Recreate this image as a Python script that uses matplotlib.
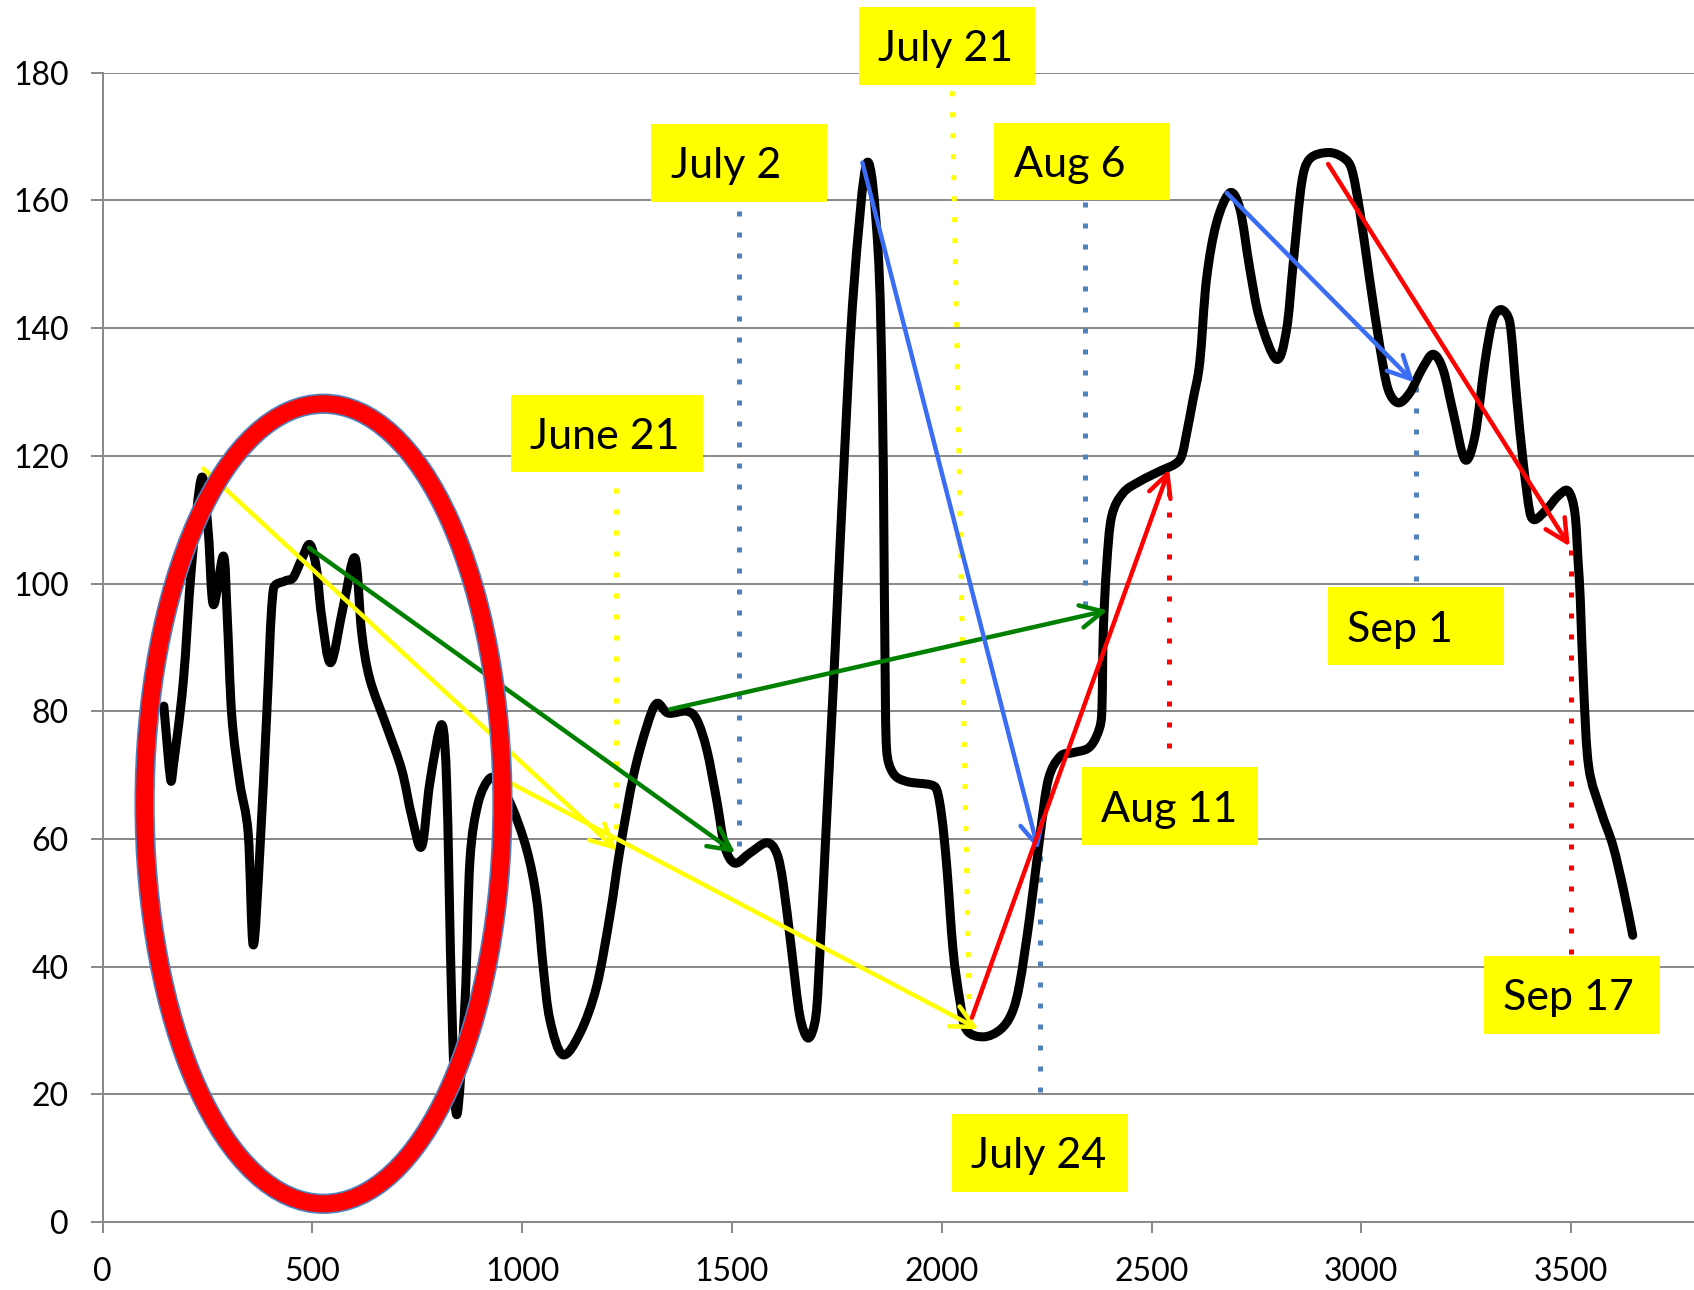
import matplotlib
matplotlib.use('Agg')
import matplotlib.pyplot as plt
from matplotlib.path import Path
from matplotlib.patches import PathPatch, Ellipse, Rectangle
import numpy as np

# ---------------- data ----------------
curve_x = [146, 162, 168.5, 192, 212, 236, 252, 264, 288, 297, 308, 327, 347, 359,
           375, 391, 407, 435, 454, 474.5, 494, 510, 522, 543.6, 573.7, 601.5, 617.5,
           637, 677, 713, 737, 760.5, 780, 808, 820, 832, 844, 864, 875.6, 895, 923,
           945, 975, 1011, 1034.6, 1050, 1066, 1096.5, 1138, 1177.5, 1209, 1233, 1265,
           1297, 1320.5, 1348, 1392, 1416, 1440, 1463.5, 1483, 1507, 1543, 1583, 1606.5,
           1622, 1642, 1662, 1682, 1700, 1710, 1722, 1734, 1746, 1768, 1790, 1822, 1848,
           1859, 1864.6, 1868.6, 1884, 1916, 1972, 1988, 2000, 2012, 2027, 2043, 2059,
           2099, 2139, 2167, 2186, 2210, 2234, 2254, 2282, 2313, 2349, 2369, 2381, 2385,
           2393, 2405, 2432.6, 2472, 2520, 2556, 2572, 2584, 2599, 2615, 2631, 2655, 2687,
           2711, 2734.5, 2758, 2798, 2822, 2838, 2858, 2877, 2921, 2957, 2977, 2997, 3020,
           3044, 3064, 3088, 3116, 3144, 3171, 3195, 3219, 3247, 3271, 3294.5, 3314, 3334,
           3354, 3370, 3386, 3402, 3414, 3442, 3469, 3493, 3509, 3517, 3522, 3530, 3542,
           3571, 3600, 3625, 3647]
curve_y = [80.8, 69.3, 71.4, 84.4, 102.7, 116.6, 107.9, 96.7, 104.3, 94.9, 79.2, 68.8, 60.9, 43.4,
           58.3, 79.2, 99.1, 100.4, 100.9, 103.8, 106.1, 102.2, 94.9, 87.6, 96.4, 104.0, 92.3,
           85.0, 77.6, 70.8, 63.5, 58.8, 68.8, 77.9, 68.8, 34.8, 16.8, 34.8, 56.7, 65.6, 69.5,
           68.5, 65.1, 58.3, 50.5, 40.0, 31.7, 26.2, 29.6, 36.9, 47.9, 58.3, 69.8,
           77.6, 81.2, 79.7, 80.0, 78.7, 74.0, 66.1, 58.8, 56.2, 57.8, 59.4, 57.8,
           53.1, 42.6, 32.2, 28.8, 32.2, 42.6, 58.3, 74.0, 89.7, 120.0, 146.0, 165.9, 152.5,
           126.6, 89.7, 74.0, 70.3, 69.0, 68.5, 67.7, 63.5, 55.7, 42.6, 34.8, 30.1,
           29.0, 30.1, 32.7, 37.4, 47.9, 60.4, 69.3, 72.9, 73.5, 74.2, 76.1, 79.2, 92.3,
           102.7, 110.5, 114.2, 116.0, 117.6, 118.7, 120.0, 123.6, 128.8, 134.6, 147.6, 156.5, 161.2,
           158.6, 149.2, 141.4, 135.1, 139.8, 150.3, 162.8, 166.5, 167.5, 166.7, 164.9, 158.1, 147.6,
           137.2, 130.4, 128.3, 129.9, 133.5, 135.9, 133.5, 126.8, 119.4, 123.1, 134.6, 141.4, 142.9,
           140.9, 129.4, 118.9, 111.1, 110.0, 111.6, 113.7, 114.5, 111.1, 103.2, 97.5, 83.7, 71.3,
           64.4, 58.9, 52.0, 44.9]

x_ticks = [0, 500, 1000, 1500, 2000, 2500, 3000, 3500]
y_ticks = [0, 20, 40, 60, 80, 100, 120, 140, 160, 180]

# date labels: text, box left x, box bottom y, box width (data units)
label_text = ["June 21", "July 2", "July 21", "Aug 6", "Aug 11", "July 24", "Sep 1", "Sep 17"]
label_left = [973, 1307, 1802, 2125, 2334, 2024, 2920, 3292]
label_bottom = [117.4, 159.8, 178.1, 160.0, 59.0, 4.7, 87.2, 29.5]
label_width = [458, 420, 420, 420, 420, 420, 420, 420]

# dotted markers: x top, y top, x bottom, y bottom, colour
vline_x0 = [1223.5, 1517, 2025, 2342, 2234, 2542, 3130, 3501]
vline_y0 = [115.0, 158.3, 177.1, 159.7, 57.3, 114.5, 130.7, 105.3]
vline_x1 = [1223.5, 1517, 2065.6, 2342, 2234, 2542, 3130, 3501]
vline_y1 = [57.8, 57.8, 33.2, 95.9, 20.4, 74.1, 100.4, 42.0]
vline_col = ['#FFFF00', '#4F81BD', '#FFFF00', '#4F81BD', '#4F81BD', '#FF0000', '#4F81BD', '#FF0000']

# arrows: start -> end, colour
arrow_x0 = [240, 945, 492, 1353, 1811, 2679, 2072, 2921]
arrow_y0 = [118.0, 69.7, 105.6, 80.3, 165.9, 161.2, 32.0, 165.7]
arrow_x1 = [1226, 2088, 1508, 2396, 2230, 3126, 2542, 3497]
arrow_y1 = [58.2, 30.2, 57.8, 95.8, 58.3, 131.5, 117.9, 105.8]
arrow_col = ['#FFFF00', '#FFFF00', '#008000', '#008000', '#3A6CF4', '#3A6CF4', '#FF0000', '#FF0000']

# ---------------- figure ----------------
W, H = 1694, 1290
fig = plt.figure(figsize=(W / 100, H / 100), dpi=100)
ax = fig.add_axes([102.6 / W, 68 / H, 1 - 102.6 / W, (1222 - 72.7) / H])
XMAX = 3793
ax.set_xlim(0, XMAX)
ax.set_ylim(0, 180)

font = ['Lato', 'DejaVu Sans']
grid_c = '#8A8A8A'
ax.set_yticks(y_ticks)
ax.set_xticks(x_ticks)
ax.set_yticklabels([str(v) for v in y_ticks], fontsize=23, family=font)
ax.set_xticklabels([str(v) for v in x_ticks], fontsize=23, family=font)
ax.tick_params(axis='y', length=8.3, width=1.45, color=grid_c, pad=16, direction='out')
ax.tick_params(axis='x', length=8, width=1.45, color=grid_c, pad=17, direction='out')
for s in ['top', 'right']:
    ax.spines[s].set_visible(False)
for s in ['left', 'bottom']:
    ax.spines[s].set_color(grid_c)
    ax.spines[s].set_linewidth(1.45)
ax.yaxis.grid(True, color=grid_c, linewidth=1.45)
ax.set_axisbelow(True)

# smooth (Excel-like, Catmull-Rom) line through the points
sx, sy = 1 / 2.3832, 1 / 0.15674
P = np.column_stack([np.array(curve_x) * sx, np.array(curve_y) * sy])
n = len(P)
D = np.zeros_like(P)
for i in range(n):
    D[i] = (P[min(i + 1, n - 1)] - P[max(i - 1, 0)]) / 6.0
verts = [P[0]]
codes = [Path.MOVETO]
for i in range(n - 1):
    L = np.hypot(*(P[i + 1] - P[i]))
    h1, h2 = D[i].copy(), D[i + 1].copy()
    for h in (h1, h2):
        m = np.hypot(*h)
        if m > 0.5 * L and m > 0:
            h *= 0.5 * L / m
    verts += [P[i] + h1, P[i + 1] - h2, P[i + 1]]
    codes += [Path.CURVE4] * 3
verts = np.array(verts)
verts[:, 0] /= sx
verts[:, 1] /= sy
ax.add_patch(PathPatch(Path(verts, codes), facecolor='none', edgecolor='black',
                       linewidth=6.5, capstyle='round', joinstyle='round', zorder=4))

# dotted marker lines
for x0, y0, x1, y1, c in zip(vline_x0, vline_y0, vline_x1, vline_y1, vline_col):
    ax.plot([x0, x1], [y0, y1], color=c, linewidth=3.6, linestyle=(0, (1, 3.2)),
            dash_capstyle='butt', zorder=3, clip_on=False)

# arrows
for x0, y0, x1, y1, c in zip(arrow_x0, arrow_y0, arrow_x1, arrow_y1, arrow_col):
    ax.annotate('', xy=(x1, y1), xytext=(x0, y0),
                arrowprops=dict(arrowstyle='->,head_length=0.9,head_width=0.45', color=c,
                                lw=3.2, shrinkA=0, shrinkB=0, mutation_scale=18),
                zorder=5)

# red ellipse with thin blue outline
ell_c = (526.5, 65.5)
ax.add_patch(Ellipse(ell_c, 853, 125.3, fill=False, edgecolor='#4F81BD', linewidth=14.6,
                     zorder=6, clip_on=False))
ax.add_patch(Ellipse(ell_c, 853, 125.3, fill=False, edgecolor='#FF0000', linewidth=12.2,
                     zorder=6.1, clip_on=False))

# yellow date labels
box_h = 12.2
pad_x = 19.6 * 2.3832
for t, x0, y0, w in zip(label_text, label_left, label_bottom, label_width):
    ax.add_patch(Rectangle((x0, y0), w, box_h, facecolor='#FFFF00', edgecolor='none',
                           zorder=7, clip_on=False))
    ax.text(x0 + pad_x, y0 + 3.7, t, fontsize=31, family=font, color='black',
            ha='left', va='baseline', zorder=8, clip_on=False)

fig.savefig('out.png', dpi=100)
